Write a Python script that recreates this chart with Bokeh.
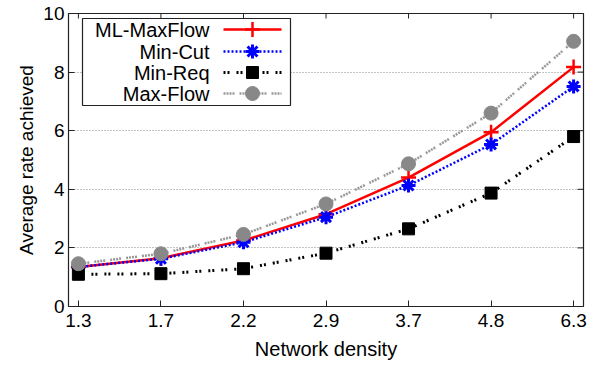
from bokeh.plotting import figure
from bokeh.models import Range1d, FixedTicker, ColumnDataSource
from bokeh.core.properties import value
from bokeh.embed import file_html
from bokeh.resources import INLINE

densities = ["1.3", "1.7", "2.2", "2.9", "3.7", "4.8", "6.3"]
ml_maxflow = [1.35, 1.65, 2.25, 3.15, 4.4, 5.95, 8.17]
min_cut = [1.35, 1.63, 2.19, 3.05, 4.13, 5.53, 7.51]
min_req = [1.1, 1.12, 1.29, 1.82, 2.65, 3.87, 5.8]
max_flow = [1.46, 1.8, 2.46, 3.5, 4.87, 6.6, 9.05]
y_ticks = [0, 2, 4, 6, 8, 10]

FONT = "Liberation Sans"
XMIN, XMAX = -0.12, 6.12
YMIN, YMAX = 0, 10
xs = list(range(len(densities)))

W, H = 602, 366
# frame geometry (pixels) used for the hand-built legend and mirror ticks
FL, FR, FT, FB = 68, 583, 13, 306

p = figure(width=W, height=H, output_backend="svg", toolbar_location=None,
           x_range=Range1d(XMIN, XMAX), y_range=Range1d(YMIN, YMAX),
           min_border_left=FL, min_border_right=W - FR,
           min_border_top=FT, min_border_bottom=H - FB)
p.outline_line_color = "#222222"
p.outline_line_width = 1.2
p.background_fill_color = "white"
p.border_fill_color = "white"

p.xgrid.visible = False
p.ygrid.ticker = FixedTicker(ticks=[2, 4, 6, 8])
p.ygrid.grid_line_color = "#888888"
p.ygrid.grid_line_dash = "1 2"
p.ygrid.grid_line_width = 1

for ax in (p.xaxis[0], p.yaxis[0]):
    ax.major_tick_in = 6
    ax.major_tick_out = 0
    ax.minor_tick_in = 0
    ax.minor_tick_out = 0
    ax.axis_line_color = "#222222"
    ax.major_tick_line_color = "#222222"
    ax.major_label_text_font = FONT
    ax.major_label_text_font_size = "19px"
    ax.major_label_text_color = "black"
    ax.axis_label_text_font = FONT
    ax.axis_label_text_font_style = "normal"
    ax.axis_label_text_color = "black"

p.xaxis[0].ticker = FixedTicker(ticks=xs)
p.xaxis[0].major_label_overrides = {i: d for i, d in enumerate(densities)}
p.xaxis[0].axis_label = "Network density"
p.xaxis[0].axis_label_text_font_size = "20px"
p.xaxis[0].major_label_standoff = 7
p.xaxis[0].axis_label_standoff = 8
p.yaxis[0].ticker = FixedTicker(ticks=y_ticks)
p.yaxis[0].axis_label = "Average rate achieved"
p.yaxis[0].axis_label_text_font_size = "19px"
p.yaxis[0].major_label_standoff = 4
p.yaxis[0].axis_label_standoff = 3

def dx(px):
    return XMIN + (px - FL) / (FR - FL) * (XMAX - XMIN)
def dy(py):
    return YMIN + (FB - py) / (FB - FT) * (YMAX - YMIN)

# mirror ticks on top and right edges
tick_dx = dx(FL + 6) - XMIN
tick_dy = YMAX - dy(FT + 5)
p.segment(x0=xs, x1=xs, y0=[YMAX] * len(xs), y1=[YMAX - tick_dy] * len(xs),
          line_color="#222222", line_width=1)
p.segment(x0=[XMAX] * len(y_ticks), x1=[XMAX - tick_dx] * len(y_ticks), y0=y_ticks, y1=y_ticks,
          line_color="#222222", line_width=1)

styles = [
    ("ML-MaxFlow", ml_maxflow, dict(line_color="#ff0000", line_width=2.5),
     dict(marker="cross", size=15, line_color="#ff0000", line_width=2.5, fill_color=None)),
    ("Min-Cut", min_cut, dict(line_color="#0000ff", line_width=2.5, line_dash="2 2"),
     dict(marker="asterisk", size=14, line_color="#0000ff", line_width=3, fill_color=None)),
    ("Min-Req", min_req, dict(line_color="black", line_width=3, line_dash="2 2 2 7"),
     dict(marker="square", size=12, line_color="black", fill_color="black", line_width=1)),
    ("Max-Flow", max_flow, dict(line_color="#999999", line_width=2.5, line_dash="2 1 2 1 2 1 2 5"),
     dict(marker="circle", size=14, line_color="#888888", fill_color="#888888", line_width=1)),
]

for name, ys, lkw, mkw in styles:
    src = ColumnDataSource(dict(x=xs, y=ys))
    p.line("x", "y", source=src, **lkw)
    p.scatter("x", "y", source=src, **mkw)

# custom legend: labels right-aligned, sample on the right
p.quad(left=[dx(82)], right=[dx(290)], top=[dy(18)], bottom=[dy(105)],
       fill_color="white", line_color="#222222", line_width=1.2)
rows = [29, 51, 72, 93]
for (name, ys, lkw, mkw), ry in zip(styles, rows):
    p.line([dx(223), dx(281)], [dy(ry), dy(ry)], **lkw)
    p.scatter([dx(252)], [dy(ry)], **mkw)
    p.text([dx(209)], [dy(ry)], text=[name], text_align="right", text_baseline="middle",
           text_font=value(FONT), text_font_size="20px", text_color="black")

open("out.html", "w").write(file_html(p, INLINE))
